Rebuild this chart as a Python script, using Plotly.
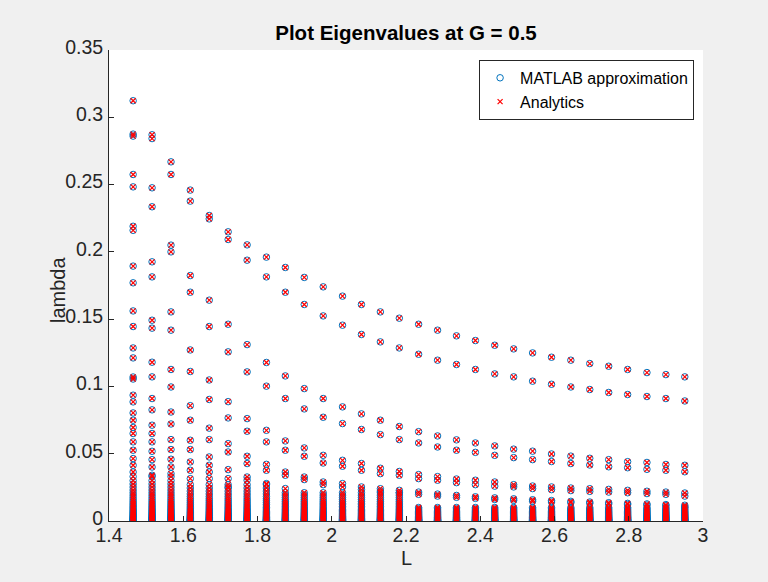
import plotly.graph_objects as go

# Domain length L for each eigenvalue column
L_values = [1.465, 1.516, 1.567, 1.619, 1.670, 1.721, 1.772, 1.824, 1.875, 1.926,
            1.977, 2.029, 2.080, 2.131, 2.182, 2.234, 2.285, 2.336, 2.387, 2.439,
            2.490, 2.541, 2.592, 2.644, 2.695, 2.746, 2.797, 2.849, 2.900, 2.951]

# Distinct (upper) eigenvalues per column
upper = [
    [0.3123, 0.2875, 0.2860, 0.2575, 0.2483, 0.2190, 0.2160, 0.1894, 0.1770, 0.1561, 0.1445,
     0.1286, 0.1212, 0.1070, 0.1055, 0.0935, 0.0885, 0.0803, 0.0749, 0.0695, 0.0650, 0.0588,
     0.0526, 0.0464, 0.0414, 0.0364],
    [0.2870, 0.2842, 0.2476, 0.2335, 0.1926, 0.1814, 0.1492, 0.1433, 0.1180, 0.1071, 0.0910,
     0.0826, 0.0712, 0.0650, 0.0588, 0.0518, 0.0456, 0.0401, 0.0340],
    [0.2669, 0.2575, 0.2050, 0.2000, 0.1554, 0.1418, 0.1126, 0.0996, 0.0810, 0.0721, 0.0605,
     0.0531, 0.0459, 0.0401, 0.0352],
    [0.2459, 0.2377, 0.1824, 0.1700, 0.1271, 0.1111, 0.0857, 0.0749, 0.0600, 0.0531, 0.0439,
     0.0377, 0.0315],
    [0.2270, 0.2245, 0.1641, 0.1445, 0.1048, 0.0903, 0.0690, 0.0605, 0.0476, 0.0414, 0.0364,
     0.0315],
    [0.2149, 0.2092, 0.1462, 0.1257, 0.0887, 0.0766, 0.0575, 0.0513, 0.0382, 0.0315, 0.0253],
    [0.2052, 0.1938, 0.1311, 0.1108, 0.0761, 0.0667, 0.0481, 0.0427, 0.0327, 0.0303],
    [0.1961, 0.1814, 0.1178, 0.1002, 0.0674, 0.0588, 0.0421, 0.0377, 0.0278],
    [0.1884, 0.1700, 0.1078, 0.0910, 0.0595, 0.0526, 0.0364, 0.0340, 0.0241],
    [0.1810, 0.1609, 0.0984, 0.0833, 0.0543, 0.0481, 0.0327, 0.0308],
    [0.1740, 0.1524, 0.0910, 0.0771, 0.0488, 0.0431, 0.0290, 0.0270],
    [0.1671, 0.1455, 0.0848, 0.0724, 0.0451, 0.0407, 0.0278, 0.0253],
    [0.1609, 0.1386, 0.0796, 0.0680, 0.0427, 0.0377, 0.0253, 0.0233],
    [0.1554, 0.1331, 0.0749, 0.0642, 0.0392, 0.0352, 0.0240, 0.0222],
    [0.1507, 0.1286, 0.0702, 0.0605, 0.0368, 0.0340, 0.0228, 0.0210],
    [0.1462, 0.1239, 0.0664, 0.0580, 0.0345, 0.0315, 0.0215, 0.0198],
    [0.1418, 0.1195, 0.0632, 0.0550, 0.0330, 0.0303, 0.0200, 0.0185],
    [0.1376, 0.1163, 0.0603, 0.0526, 0.0312, 0.0285, 0.0190, 0.0176],
    [0.1341, 0.1126, 0.0580, 0.0510, 0.0303, 0.0270, 0.0180, 0.0168],
    [0.1306, 0.1093, 0.0558, 0.0488, 0.0290, 0.0259, 0.0172, 0.0160],
    [0.1279, 0.1071, 0.0534, 0.0471, 0.0270, 0.0253, 0.0165, 0.0153],
    [0.1249, 0.1039, 0.0519, 0.0456, 0.0260, 0.0241, 0.0158, 0.0147],
    [0.1217, 0.1016, 0.0498, 0.0442, 0.0253, 0.0233, 0.0152, 0.0141],
    [0.1195, 0.0996, 0.0482, 0.0427, 0.0245, 0.0226, 0.0146, 0.0136],
    [0.1170, 0.0977, 0.0466, 0.0416, 0.0240, 0.0220, 0.0141, 0.0131],
    [0.1150, 0.0955, 0.0456, 0.0403, 0.0235, 0.0215, 0.0136, 0.0126],
    [0.1126, 0.0940, 0.0441, 0.0396, 0.0228, 0.0210, 0.0131, 0.0122],
    [0.1103, 0.0925, 0.0435, 0.0384, 0.0221, 0.0204, 0.0127, 0.0118],
    [0.1088, 0.0910, 0.0420, 0.0377, 0.0215, 0.0198, 0.0122, 0.0114],
    [0.1071, 0.0892, 0.0414, 0.0366, 0.0208, 0.0185, 0.0117, 0.0105],
]

# Densely packed small eigenvalues near zero
tail_a = [0.0330, 0.0300, 0.0275, 0.0252, 0.0230, 0.0210, 0.0192, 0.0175, 0.0160, 0.0146,
          0.0133, 0.0121, 0.0110, 0.0100, 0.0090, 0.0081, 0.0073, 0.0065, 0.0058, 0.0051,
          0.0045, 0.0039, 0.0034, 0.0029, 0.0025, 0.0021, 0.0017, 0.0014, 0.0011, 0.0008,
          0.0006, 0.0004, 0.0002, 0.0001]
tail_b = [0.0270, 0.0245, 0.0222, 0.0201, 0.0182, 0.0165, 0.0150, 0.0136, 0.0123, 0.0111,
          0.0100, 0.0090, 0.0081, 0.0072, 0.0064, 0.0057, 0.0050, 0.0044, 0.0038, 0.0033,
          0.0028, 0.0024, 0.0020, 0.0016, 0.0013, 0.0010, 0.0007, 0.0005, 0.0003, 0.0001]
tail_c = [0.0210, 0.0192, 0.0175, 0.0159, 0.0145, 0.0132, 0.0120, 0.0108, 0.0097, 0.0087,
          0.0078, 0.0069, 0.0061, 0.0054, 0.0047, 0.0041, 0.0035, 0.0030, 0.0025, 0.0021,
          0.0017, 0.0013, 0.0010, 0.0007, 0.0004, 0.0002]
tail_d = [0.0100, 0.0090, 0.0081, 0.0072, 0.0064, 0.0057, 0.0050, 0.0044, 0.0038, 0.0033,
          0.0028, 0.0024, 0.0020, 0.0016, 0.0013, 0.0010, 0.0007, 0.0005, 0.0003, 0.0001]

# which near-zero cluster each column uses
tail_of_column = ["a"] * 3 + ["b"] * 5 + ["c"] * 7 + ["d"] * 15
tails = {"a": tail_a, "b": tail_b, "c": tail_c, "d": tail_d}

x_tick_vals = [1.4, 1.6, 1.8, 2.0, 2.2, 2.4, 2.6, 2.8, 3.0]
x_tick_text = ["1.4", "1.6", "1.8", "2", "2.2", "2.4", "2.6", "2.8", "3"]
y_tick_vals = [0, 0.05, 0.1, 0.15, 0.2, 0.25, 0.3, 0.35]
y_tick_text = ["0", "0.05", "0.1", "0.15", "0.2", "0.25", "0.3", "0.35"]

xs, ys = [], []
for L, top, key in zip(L_values, upper, tail_of_column):
    for v in top + tails[key]:
        xs.append(L)
        ys.append(v)

FONT = "Liberation Sans, Arial, Helvetica, sans-serif"
INK = "#262626"
W, H = 768, 582
M_L, M_R, M_T, M_B = 109, 65, 50, 61
PLOT_W = W - M_L - M_R
PLOT_H = H - M_T - M_B

fig = go.Figure()
fig.add_trace(go.Scatter(
    x=xs, y=ys, mode="markers", name="MATLAB approximation",
    marker=dict(symbol="circle-open", size=6.5, color="#0072BD",
                line=dict(width=1, color="#0072BD")),
))
fig.add_trace(go.Scatter(
    x=xs, y=ys, mode="markers", name="Analytics",
    marker=dict(symbol="x-thin-open", size=5, color="#FF0000",
                line=dict(width=1.2, color="#FF0000")),
))

# axis titles placed as annotations so they sit close to the tick labels
fig.add_annotation(text="L", xref="paper", yref="paper",
                   x=(406 - M_L) / PLOT_W, y=-(558 - (H - M_B)) / PLOT_H,
                   xanchor="center", yanchor="middle", showarrow=False,
                   font=dict(size=20, color=INK, family=FONT))
fig.add_annotation(text="lambda", xref="paper", yref="paper", textangle=-90,
                   x=(58 - M_L) / PLOT_W, y=((H - M_B) - 290) / PLOT_H,
                   xanchor="center", yanchor="middle", showarrow=False,
                   font=dict(size=20, color=INK, family=FONT))

fig.update_layout(
    width=W, height=H,
    paper_bgcolor="#F0F0F0", plot_bgcolor="#FFFFFF",
    margin=dict(l=M_L, r=M_R, t=M_T, b=M_B),
    font=dict(family=FONT, color=INK),
    title=dict(text="<b>Plot Eigenvalues at G = 0.5</b>", x=(406 - M_L) / PLOT_W,
               xref="paper", xanchor="center", y=1 - 33 / H, yanchor="middle",
               font=dict(size=20.5, color="#000000")),
    showlegend=True,
    legend=dict(x=0.985, y=0.979, xanchor="right", yanchor="top",
                bgcolor="#FFFFFF", bordercolor="#262626", borderwidth=1,
                font=dict(size=16, color="#000000"), itemwidth=30,
                tracegroupgap=0),
    xaxis=dict(range=[1.4, 3.0], tickvals=x_tick_vals, ticktext=x_tick_text,
               ticks="inside", ticklen=5, tickcolor=INK, showgrid=False,
               zeroline=False, showline=True, linecolor=INK, linewidth=1,
               ticklabelstandoff=-3,
               tickfont=dict(size=19.5, color=INK)),
    yaxis=dict(range=[0, 0.35], tickvals=y_tick_vals, ticktext=y_tick_text,
               ticks="inside", ticklen=5, tickcolor=INK, showgrid=False,
               zeroline=False, showline=True, linecolor=INK, linewidth=1,
               ticklabelshift=-3, ticklabelstandoff=1,
               tickfont=dict(size=19.5, color=INK)),
)

fig.write_html("out.html")
